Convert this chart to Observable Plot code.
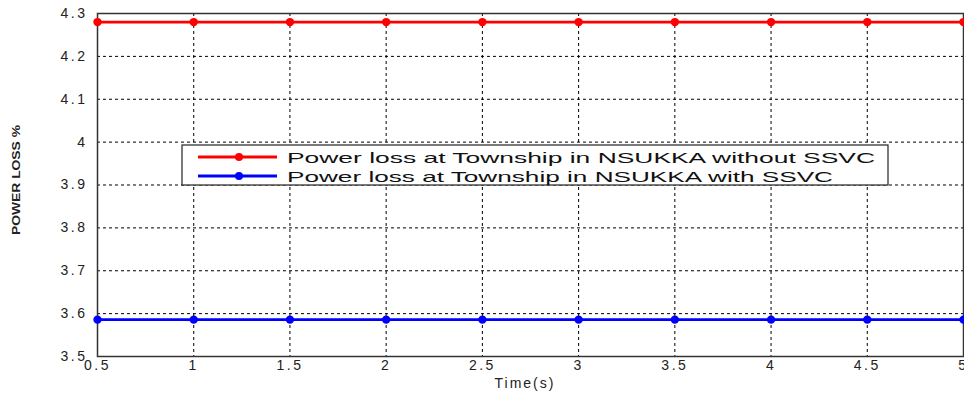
<!DOCTYPE html>
<html>
<head>
<meta charset="utf-8">
<script src="https://cdn.jsdelivr.net/npm/d3@7"></script>
<script src="https://cdn.jsdelivr.net/npm/@observablehq/plot@0.6"></script>
<style>
  html, body { margin: 0; padding: 0; background: #fff; }
  #chart svg { display: block; }
</style>
</head>
<body>
<div id="chart"></div>
<script>
const times = [0.5, 1, 1.5, 2, 2.5, 3, 3.5, 4, 4.5, 5];
const withoutSSVC = [4.28, 4.28, 4.28, 4.28, 4.28, 4.28, 4.28, 4.28, 4.28, 4.28];
const withSSVC = [3.586, 3.586, 3.586, 3.586, 3.586, 3.586, 3.586, 3.586, 3.586, 3.586];
const seriesNames = [
  "Power loss at Township in NSUKKA without SSVC",
  "Power loss at Township in NSUKKA with SSVC"
];
const seriesColors = ["#ff0000", "#0000ff"];
const xTicks = [0.5, 1, 1.5, 2, 2.5, 3, 3.5, 4, 4.5, 5];
const yTicks = [3.5, 3.6, 3.7, 3.8, 3.9, 4, 4.1, 4.2, 4.3];
const xLabel = "Time(s)";
const yLabel = "POWER LOSS %";

const data = [
  ...times.map((t, i) => ({t, v: withoutSSVC[i], s: seriesNames[0]})),
  ...times.map((t, i) => ({t, v: withSSVC[i], s: seriesNames[1]}))
];

const W = 964, H = 394;
const mL = 97, mR = 1, mT = 13, mB = 38;

const plot = Plot.plot({
  width: W,
  height: H,
  marginLeft: mL,
  marginRight: mR,
  marginTop: mT,
  marginBottom: mB,
  style: {fontFamily: "Arial, 'Liberation Sans', sans-serif", fontSize: "14px", color: "#222", background: "#fff", overflow: "visible"},
  x: {domain: [0.5, 5], ticks: xTicks, tickFormat: d => String(d), label: null},
  y: {domain: [3.5, 4.3], ticks: yTicks, tickFormat: d => String(d), label: null},
  color: {domain: seriesNames, range: seriesColors},
  marks: [
    Plot.gridX(xTicks, {stroke: "#000", strokeOpacity: 1, strokeDasharray: "3,3", strokeWidth: 1}),
    Plot.gridY(yTicks, {stroke: "#000", strokeOpacity: 1, strokeDasharray: "3,3", strokeWidth: 1}),
    Plot.frame({stroke: "#333", strokeWidth: 1.5}),
    Plot.axisX({ticks: xTicks, tickSize: 0, tickPadding: 4, tickFormat: d => String(d), fontSize: 14, label: null}),
    Plot.axisY({ticks: yTicks, tickSize: 0, tickPadding: 10, tickFormat: d => String(d), fontSize: 14, label: null}),
    Plot.line(data, {x: "t", y: "v", z: "s", stroke: "s", strokeWidth: 2.8}),
    Plot.dot(data, {x: "t", y: "v", fill: "s", r: 4.2, stroke: "none"})
  ]
});

document.getElementById("chart").appendChild(plot);

const svg = d3.select(plot);
svg.selectAll("[aria-label='x-axis tick label'] text, [aria-label='y-axis tick label'] text")
  .attr("letter-spacing", "2.5px");

// x-axis title
svg.append("text")
  .attr("x", 525).attr("y", 388)
  .attr("text-anchor", "middle")
  .attr("font-family", "Arial, 'Liberation Sans', sans-serif")
  .attr("font-size", 14)
  .attr("letter-spacing", "2px")
  .attr("fill", "#222")
  .text(xLabel);

// y-axis title (compressed as in original)
svg.append("text")
  .attr("transform", "translate(20,180) rotate(-90)")
  .attr("text-anchor", "middle")
  .attr("font-family", "Arial, 'Liberation Sans', sans-serif")
  .attr("font-size", 10)
  .attr("font-weight", "bold")
  .attr("fill", "#222")
  .attr("textLength", 110)
  .attr("lengthAdjust", "spacingAndGlyphs")
  .text(yLabel);

// legend
const lg = svg.append("g");
lg.append("rect")
  .attr("x", 182).attr("y", 145).attr("width", 706).attr("height", 40)
  .attr("fill", "#fff").attr("stroke", "#222").attr("stroke-width", 1.2);
seriesNames.forEach((name, i) => {
  const y = 157 + i * 19;
  lg.append("line")
    .attr("x1", 198).attr("x2", 277).attr("y1", y).attr("y2", y)
    .attr("stroke", seriesColors[i]).attr("stroke-width", 2.8);
  lg.append("circle")
    .attr("cx", 239).attr("cy", y).attr("r", 4)
    .attr("fill", seriesColors[i]);
  lg.append("text")
    .attr("x", 287).attr("y", y + 5.5)
    .attr("text-anchor", "start")
    .attr("font-family", "Arial, 'Liberation Sans', sans-serif")
    .attr("font-size", 15)
    .attr("fill", "#111")
    .attr("textLength", i === 0 ? 588 : 546)
    .attr("lengthAdjust", "spacingAndGlyphs")
    .text(name);
});
</script>
</body>
</html>
